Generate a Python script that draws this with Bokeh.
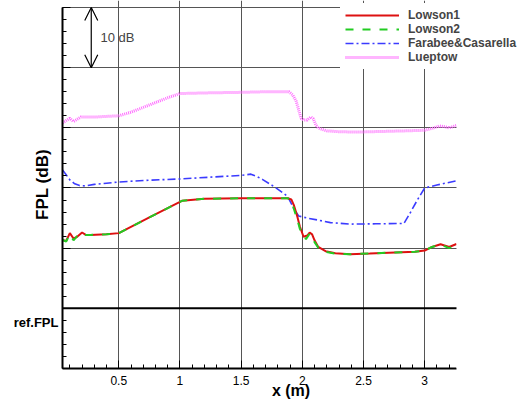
import numpy as np
from bokeh.plotting import figure
from bokeh.models import (Range1d, FixedTicker, CustomJSTickFormatter, Legend,
                          LegendItem, Label, Arrow, OpenHead, Span, LinearAxis,
                          BoxAnnotation)
from bokeh.embed import file_html
from bokeh.resources import INLINE

# ---- data: FPL relative to the reference level (dB) along x (m) ----
lowson1_x = [0.04, 0.07, 0.10, 0.13, 0.16, 0.20, 0.23, 0.27, 0.31, 0.40, 0.50, 0.75,
             1.02, 1.20, 1.50, 1.70, 1.88, 1.91, 1.93, 1.96, 1.98, 2.01, 2.04, 2.06,
             2.08, 2.10, 2.13, 2.19, 2.27, 2.39, 2.55, 2.76, 2.92, 3.00, 3.06, 3.13,
             3.20, 3.26]
lowson1_y = [11.3, 11.2, 12.5, 11.6, 11.9, 12.6, 12.2, 12.2, 12.25, 12.3, 12.5, 15.1,
             17.9, 18.2, 18.3, 18.3, 18.3, 18.1, 17.2, 15.2, 13.6, 11.9, 12.1, 12.6,
             12.3, 11.3, 10.2, 9.5, 9.15, 9.0, 9.1, 9.3, 9.4, 9.6, 10.2, 10.65,
             10.2, 10.7]

lowson2_x = [0.04, 0.07, 0.10, 0.13, 0.16, 0.20, 0.23, 0.27, 0.31, 0.40, 0.50, 0.75,
             1.02, 1.20, 1.50, 1.70, 1.88, 1.91, 1.93, 1.96, 1.98, 2.01, 2.03, 2.06,
             2.08, 2.10, 2.13, 2.19, 2.27, 2.39, 2.55, 2.76, 2.92, 3.00, 3.06, 3.13,
             3.20, 3.26]
lowson2_y = [11.4, 11.1, 12.3, 11.3, 12.0, 12.5, 12.2, 12.2, 12.25, 12.3, 12.5, 15.1,
             17.9, 18.2, 18.3, 18.3, 18.3, 17.9, 16.6, 14.7, 13.2, 11.9, 11.5, 12.4,
             12.0, 11.0, 10.1, 9.4, 9.1, 9.0, 9.1, 9.3, 9.4, 9.6, 10.2, 10.6,
             10.0, 10.6]

farabee_x = [0.04, 0.07, 0.10, 0.14, 0.18, 0.23, 0.30, 0.40, 0.50, 0.75, 1.00, 1.25,
             1.50, 1.58, 1.63, 1.68, 1.74, 1.79, 1.88, 1.93, 1.97, 2.04, 2.12, 2.23,
             2.39, 2.60, 2.83, 2.88, 2.94, 3.00, 3.10, 3.26]
farabee_y = [23.0, 22.2, 21.35, 20.7, 20.4, 20.35, 20.6, 20.8, 21.0, 21.3, 21.5, 21.8,
             22.1, 22.3, 21.9, 21.35, 20.6, 19.95, 18.6, 16.6, 15.35, 15.0, 14.7, 14.25,
             14.0, 14.05, 14.1, 15.8, 18.0, 20.0, 20.5, 21.2]

lueptow_x = [0.04, 0.07, 0.10, 0.13, 0.15, 0.19, 0.25, 0.31, 0.40, 0.50, 0.60, 0.75,
             0.90, 1.00, 1.20, 1.50, 1.70, 1.89, 1.92, 1.95, 1.97, 1.99, 2.01, 2.04,
             2.07, 2.09, 2.11, 2.13, 2.20, 2.30, 2.45, 2.66, 2.85, 3.00, 3.06, 3.12,
             3.16, 3.20, 3.26]
lueptow_y = [30.8, 31.2, 31.6, 31.05, 31.3, 31.8, 31.8, 31.8, 31.9, 32.0, 32.6, 33.8,
             35.0, 35.7, 35.8, 35.9, 36.0, 36.0, 35.5, 34.4, 33.0, 31.6, 31.3, 31.3,
             31.8, 31.5, 30.5, 29.95, 29.5, 29.35, 29.3, 29.4, 29.5, 29.6, 29.9, 30.3,
             30.2, 30.0, 30.4]

ref_level = 0.0
x_ticks = [0.5, 1.0, 1.5, 2.0, 2.5, 3.0]
y_major = [-10, 0, 10, 20, 30, 40, 50]
y_grid = [10, 20, 30, 40, 50]

X_MIN, X_MAX = 0.04, 3.26      # extent of the axes
Y_MIN, Y_MAX = -10, 50

FONT = "Liberation Sans"

# the frame runs to the right edge of the page so the legend can sit
# partly beyond the end of the x axis
p = figure(width=519, height=401, output_backend="svg", toolbar_location=None,
           x_range=Range1d(X_MIN, 3.775), y_range=Range1d(Y_MIN, 51.163),
           min_border_left=62, min_border_right=0, min_border_top=0,
           min_border_bottom=33)
p.outline_line_color = None
p.background_fill_color = "white"
p.border_fill_color = "white"

# axes: ticks point inward
for ax in (p.xaxis[0], p.yaxis[0]):
    ax.axis_line_color = "black"
    ax.axis_line_width = 2
    ax.major_tick_in = 8
    ax.major_tick_out = 0
    ax.minor_tick_in = 4
    ax.minor_tick_out = 0
    ax.major_tick_line_color = "black"
    ax.minor_tick_line_color = "black"

p.xaxis.bounds = (X_MIN, X_MAX)
p.xaxis.ticker = FixedTicker(ticks=x_ticks,
                             minor_ticks=list(np.round(np.arange(0.1, 3.25, 0.1), 2)))
p.xaxis.formatter = CustomJSTickFormatter(code="return String(tick)")
p.xaxis.major_label_text_font = FONT
p.xaxis.major_label_text_font_size = "12px"
p.xaxis.major_label_text_color = "black"
p.xaxis.major_label_standoff = 7
p.xaxis.axis_label = "x (m)"
p.xaxis.axis_label_text_font = FONT
p.xaxis.axis_label_text_font_style = "bold"
p.xaxis.axis_label_text_font_size = "16px"
p.xaxis.axis_label_text_color = "black"
p.xaxis.axis_label_standoff = -6

p.yaxis.bounds = (Y_MIN, Y_MAX)
p.yaxis.ticker = FixedTicker(ticks=y_major, minor_ticks=list(range(-10, 51, 2)))
p.yaxis.formatter = CustomJSTickFormatter(code="return ''")
p.yaxis.major_label_standoff = 0
p.yaxis.major_label_text_font_size = "0px"

# outer left axis: carries only the reference-level label and the axis title
ref_axis = LinearAxis(ticker=FixedTicker(ticks=[-2.3], minor_ticks=[]),
                      formatter=CustomJSTickFormatter(code="return 'ref.FPL'"),
                      bounds=(Y_MIN, Y_MAX))
ref_axis.axis_line_color = None
ref_axis.major_tick_line_color = None
ref_axis.minor_tick_line_color = None
ref_axis.major_label_standoff = -2
ref_axis.major_label_text_font = FONT
ref_axis.major_label_text_font_style = "bold"
ref_axis.major_label_text_font_size = "13px"
ref_axis.major_label_text_color = "black"
ref_axis.axis_label = "FPL (dB)"
ref_axis.axis_label_text_font = FONT
ref_axis.axis_label_text_font_style = "bold"
ref_axis.axis_label_text_font_size = "17px"
ref_axis.axis_label_text_color = "black"
ref_axis.axis_label_standoff = -41
p.add_layout(ref_axis, "left")

p.xgrid.ticker = FixedTicker(ticks=x_ticks)
p.ygrid.ticker = FixedTicker(ticks=y_grid)
for g in (p.xgrid[0], p.ygrid[0]):
    g.grid_line_color = "#555555"
    g.grid_line_width = 1

p.add_layout(Span(location=ref_level, dimension="width",
                  line_color="black", line_width=2))

r_lue = p.line(lueptow_x, lueptow_y, line_color="#ff6cff", line_width=3,
               line_dash="1 1")
r_far = p.line(farabee_x, farabee_y, line_color="#3b3bff", line_width=1.6,
               line_dash="8 3 2 3")
r_l1 = p.line(lowson1_x, lowson1_y, line_color="#dd1111", line_width=2)
r_l2 = p.line(lowson2_x, lowson2_y, line_color="#22cc22", line_width=2,
              line_dash="8 9")

# blank out the frame beyond the end of the x axis
p.add_layout(BoxAnnotation(left=X_MAX, fill_color="white", fill_alpha=1,
                           line_alpha=0))

legend = Legend(items=[LegendItem(label="Lowson1", renderers=[r_l1]),
                       LegendItem(label="Lowson2", renderers=[r_l2]),
                       LegendItem(label="Farabee&Casarella", renderers=[r_far]),
                       LegendItem(label="Lueptow", renderers=[r_lue])],
                location=(278, 299))
legend.label_text_font = FONT
legend.label_text_font_style = "bold"
legend.label_text_font_size = "12px"
legend.glyph_width = 54
legend.glyph_height = 14
legend.label_height = 14
legend.spacing = 0
legend.padding = 5
legend.margin = 0
legend.label_standoff = 9
legend.border_line_alpha = 0
legend.background_fill_alpha = 1
p.add_layout(legend)

# 10 dB scale marker
p.add_layout(Arrow(x_start=0.275, y_start=40, x_end=0.275, y_end=50,
                   start=OpenHead(size=13, line_width=1.2),
                   end=OpenHead(size=13, line_width=1.2),
                   line_width=1.2, line_color="black"))
p.add_layout(Label(x=0.35, y=45, text="10 dB", text_font=FONT,
                   text_font_size="13px", text_baseline="middle", text_align="left"))

open("out.html", "w").write(file_html(p, INLINE))
